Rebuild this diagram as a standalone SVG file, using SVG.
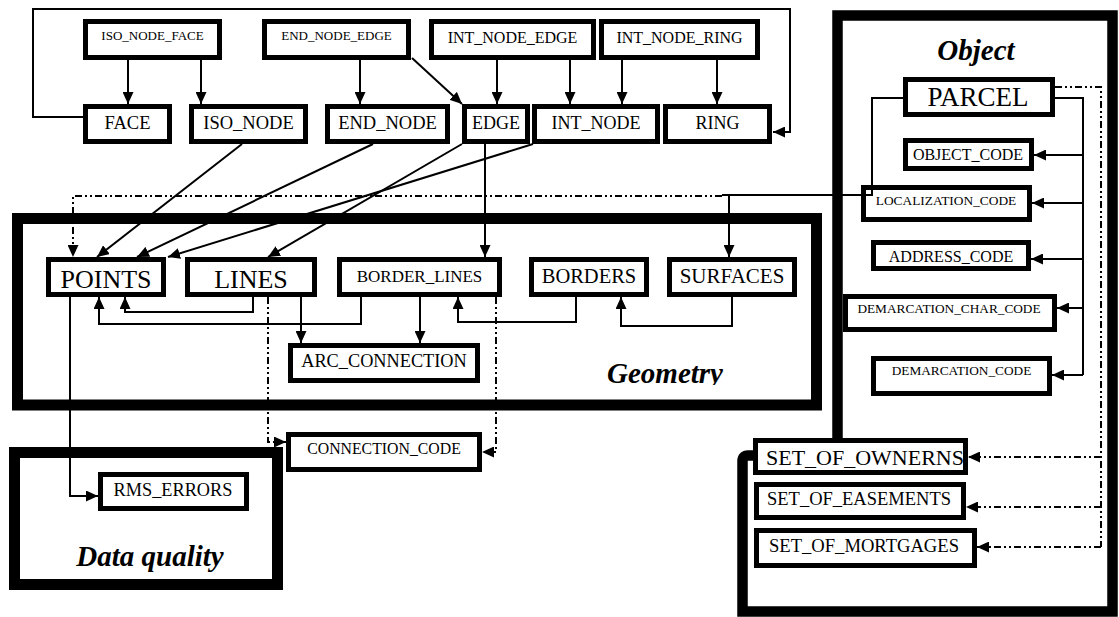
<svg xmlns="http://www.w3.org/2000/svg" width="1119" height="617" viewBox="0 0 1119 617">
<style>
.box{fill:#fff;stroke:#000;stroke-width:5}
.ct{fill:none;stroke:#000}
.t{font-family:"Liberation Serif","Times New Roman",serif;text-anchor:middle;fill:#000}
.title{font-family:"Liberation Serif","Times New Roman",serif;text-anchor:middle;fill:#000;font-weight:bold;font-style:italic;font-size:29px}
.c{fill:none;stroke:#000;stroke-width:2}
.d{fill:none;stroke:#000;stroke-width:2;stroke-dasharray:7 3 2 3 2 3}
</style>
<defs>
<marker id="a" markerUnits="userSpaceOnUse" markerWidth="12" markerHeight="11" refX="12" refY="5.5" orient="auto">
<path d="M0,0 L12,5.5 L0,11 z" fill="#000"/>
</marker>
<clipPath id="gclip"><rect x="0" y="300" width="1119" height="85"/></clipPath>
</defs>
<rect width="1119" height="617" fill="#fff"/>

<g id="geometry">
<rect class="ct" x="17.5" y="218.5" width="799" height="186.5" stroke-width="11"/>
<text class="title" x="665" y="383" clip-path="url(#gclip)">Geometry</text>
</g>
<g id="data_quality">
<rect class="ct" x="14.5" y="452.5" width="263" height="132" stroke-width="11"/>
<text class="title" x="150" y="566">Data quality</text>
</g>
<g id="object">
<path class="ct" stroke-width="10.5" d="M837.5,440 V15.5 H1112.5 V611.5 H742.5 V461 Q742.5,455.5 748,455.5 H756"/>
<text class="title" x="976" y="60">Object</text>
</g>

<g id="iso_node_face"><rect class="box" x="85.5" y="21.5" width="134" height="36"/><text class="t" x="152.5" y="40" font-size="13">ISO_NODE_FACE</text></g>
<g id="end_node_edge"><rect class="box" x="264.5" y="21.5" width="144" height="36"/><text class="t" x="336.5" y="40" font-size="13">END_NODE_EDGE</text></g>
<g id="int_node_edge"><rect class="box" x="431.5" y="21.5" width="162" height="36"/><text class="t" x="512.5" y="43" font-size="16">INT_NODE_EDGE</text></g>
<g id="int_node_ring"><rect class="box" x="601.5" y="21.5" width="156" height="36"/><text class="t" x="679.5" y="43" font-size="16">INT_NODE_RING</text></g>

<g id="face"><rect class="box" x="85.5" y="106.5" width="84" height="35"/><text class="t" x="127.5" y="129" font-size="18.5">FACE</text></g>
<g id="iso_node"><rect class="box" x="191.5" y="106.5" width="114" height="35"/><text class="t" x="248.5" y="129" font-size="18.5">ISO_NODE</text></g>
<g id="end_node"><rect class="box" x="327.5" y="106.5" width="120" height="35"/><text class="t" x="387.5" y="129" font-size="18.5">END_NODE</text></g>
<g id="edge"><rect class="box" x="464.5" y="106.5" width="63" height="35"/><text class="t" x="496" y="129" font-size="18">EDGE</text></g>
<g id="int_node"><rect class="box" x="534.5" y="106.5" width="123" height="35"/><text class="t" x="596" y="129" font-size="18">INT_NODE</text></g>
<g id="ring"><rect class="box" x="665.5" y="106.5" width="104" height="35"/><text class="t" x="717.5" y="129" font-size="18">RING</text></g>

<g id="points"><rect class="box" x="48.5" y="259.5" width="115" height="35"/><text class="t" x="106" y="288" font-size="26">POINTS</text></g>
<g id="lines"><rect class="box" x="187.5" y="259.5" width="127" height="35"/><text class="t" x="251" y="288" font-size="26">LINES</text></g>
<g id="border_lines"><rect class="box" x="339.5" y="259.5" width="160" height="35"/><text class="t" x="419.5" y="282" font-size="17">BORDER_LINES</text></g>
<g id="borders"><rect class="box" x="531.5" y="259.5" width="115" height="35"/><text class="t" x="589" y="283" font-size="20.5">BORDERS</text></g>
<g id="surfaces"><rect class="box" x="669.5" y="259.5" width="125" height="35"/><text class="t" x="732" y="283" font-size="21">SURFACES</text></g>
<g id="arc_connection"><rect class="box" x="290.5" y="345.5" width="187" height="35"/><text class="t" x="384" y="367" font-size="18.3">ARC_CONNECTION</text></g>
<g id="connection_code"><rect class="box" x="288.5" y="434.5" width="191" height="35"/><text class="t" x="384" y="454" font-size="15.8">CONNECTION_CODE</text></g>
<g id="rms_errors"><rect class="box" x="100.5" y="474.5" width="146" height="34"/><text class="t" x="173" y="496" font-size="18.3">RMS_ERRORS</text></g>

<g id="parcel"><rect class="box" x="905.5" y="79.5" width="147" height="35"/><text class="t" x="978" y="106" font-size="27">PARCEL</text></g>
<g id="object_code"><rect class="box" x="905.5" y="140.5" width="126" height="28"/><text class="t" x="968" y="160" font-size="16">OBJECT_CODE</text></g>
<g id="localization_code"><rect class="box" x="863.5" y="187.5" width="166" height="32"/><text class="t" x="946" y="205" font-size="13.4">LOCALIZATION_CODE</text></g>
<g id="address_code"><rect class="box" x="873.5" y="242.5" width="155" height="26"/><text class="t" x="951" y="262" font-size="16">ADDRESS_CODE</text></g>
<g id="demarcation_char_code"><rect class="box" x="845.5" y="296.5" width="209" height="33"/><text class="t" x="949" y="313" font-size="13.3">DEMARCATION_CHAR_CODE</text></g>
<g id="demarcation_code"><rect class="box" x="873.5" y="358.5" width="176" height="35"/><text class="t" x="961.5" y="375" font-size="13.3">DEMARCATION_CODE</text></g>
<g id="set_of_ownerns"><rect class="box" x="755.5" y="440.5" width="210" height="32"/><text class="t" x="865" y="465" font-size="22">SET_OF_OWNERNS</text></g>
<g id="set_of_easements"><rect class="box" x="756.5" y="484.5" width="207" height="33"/><text class="t" x="859" y="505" font-size="18.5">SET_OF_EASEMENTS</text></g>
<g id="set_of_mortgages"><rect class="box" x="756.5" y="530.5" width="218" height="35"/><text class="t" x="864" y="552" font-size="18.6">SET_OF_MORTGAGES</text></g>

<g id="connectors">
<path class="c" d="M83,117 H33 V9 H790 V132 H773" marker-end="url(#a)"/>
<path class="c" d="M128,60 V104" marker-end="url(#a)"/>
<path class="c" d="M201,60 V104" marker-end="url(#a)"/>
<path class="c" d="M360,60 V104" marker-end="url(#a)"/>
<path class="c" d="M412,58 L462,104" marker-end="url(#a)"/>
<path class="c" d="M497,60 V104" marker-end="url(#a)"/>
<path class="c" d="M570,60 V104" marker-end="url(#a)"/>
<path class="c" d="M622,60 V104" marker-end="url(#a)"/>
<path class="c" d="M717,60 V104" marker-end="url(#a)"/>
<path class="c" d="M242,144 L97,257" marker-end="url(#a)"/>
<path class="c" d="M373,144 L137,257" marker-end="url(#a)"/>
<path class="c" d="M462,144 L268,257" marker-end="url(#a)"/>
<path class="c" d="M533,144 L168,257" marker-end="url(#a)"/>
<path class="c" d="M485,144 V257" marker-end="url(#a)"/>
<path class="c" d="M903,98 H872 V195 H722"/>
<path class="c" d="M729,196 V257" marker-end="url(#a)"/>
<path class="d" d="M722,196 H73 V257" marker-end="url(#a)"/>
<path class="c" d="M253,297 V312 H125 V297" marker-end="url(#a)"/>
<path class="c" d="M361,297 V324 H99 V297" marker-end="url(#a)"/>
<path class="c" d="M301,297 V343" marker-end="url(#a)"/>
<path class="c" d="M420,297 V343" marker-end="url(#a)"/>
<path class="c" d="M576,297 V322 H458 V297" marker-end="url(#a)"/>
<path class="c" d="M732,297 V326 H621 V297" marker-end="url(#a)"/>
<path class="d" d="M268,297 V442 H286" marker-end="url(#a)"/>
<path class="d" d="M496,297 V452 H482" marker-end="url(#a)"/>
<path class="c" d="M70,297 V496 H98" marker-end="url(#a)"/>
<path class="c" d="M1055,98 H1083 V375"/>
<path class="c" d="M1083,155 H1034" marker-end="url(#a)"/>
<path class="c" d="M1083,203 H1032" marker-end="url(#a)"/>
<path class="c" d="M1083,259 H1031" marker-end="url(#a)"/>
<path class="c" d="M1083,308 H1057" marker-end="url(#a)"/>
<path class="c" d="M1083,375 H1052" marker-end="url(#a)"/>
<path class="d" d="M1055,87 H1101 V547"/>
<path class="d" d="M1101,457 H968" marker-end="url(#a)"/>
<path class="d" d="M1101,507 H966" marker-end="url(#a)"/>
<path class="d" d="M1101,547 H977" marker-end="url(#a)"/>
</g>
</svg>
